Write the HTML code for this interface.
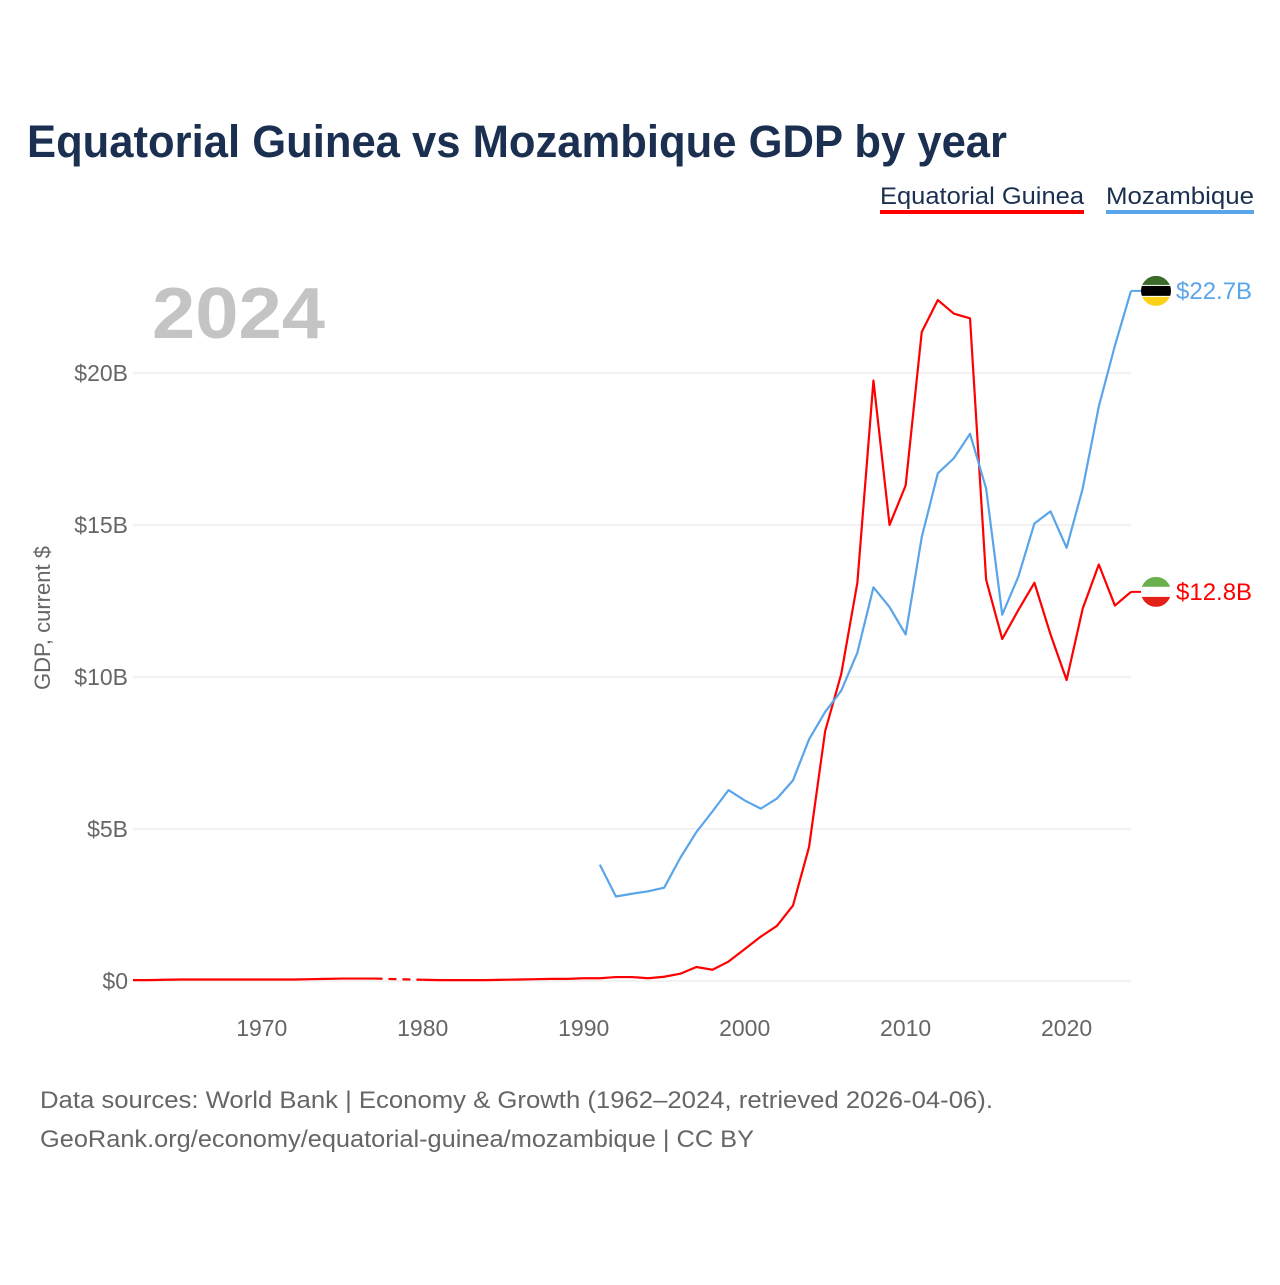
<!DOCTYPE html>
<html><head><meta charset="utf-8"><style>
body{margin:0;background:#fff;width:1280px;height:1280px;overflow:hidden;font-family:"Liberation Sans",sans-serif}
</style></head><body>
<svg width="1280" height="1280" style="font-family:'Liberation Sans',sans-serif">
<text x="27" y="157" font-size="45" font-weight="bold" fill="#1b3050" textLength="980" lengthAdjust="spacingAndGlyphs">Equatorial Guinea vs Mozambique GDP by year</text>
<g><text x="880" y="204" font-size="24" fill="#1b3050" textLength="204" lengthAdjust="spacingAndGlyphs">Equatorial Guinea</text><rect x="880" y="210" width="204" height="4" fill="#ff0000"/></g>
<g><text x="1106" y="204" font-size="24" fill="#1b3050" textLength="148" lengthAdjust="spacingAndGlyphs">Mozambique</text><rect x="1106" y="210" width="148" height="4" fill="#5aa5ea"/></g>
<text x="152" y="338" font-size="72" font-weight="bold" fill="#c4c4c4" textLength="173" lengthAdjust="spacingAndGlyphs">2024</text>
<text transform="translate(50,618) rotate(-90)" text-anchor="middle" font-size="22" fill="#666">GDP, current $</text>
<g id="grid"></g><g id="yt"></g><g id="xt"></g><g id="lines"></g><g id="ends"></g>
<text x="40" y="1108" font-size="24" fill="#666" textLength="953" lengthAdjust="spacingAndGlyphs">Data sources: World Bank | Economy &amp; Growth (1962–2024, retrieved 2026-04-06).</text>
<text x="40" y="1147" font-size="24" fill="#666" textLength="714" lengthAdjust="spacingAndGlyphs">GeoRank.org/economy/equatorial-guinea/mozambique | CC BY</text>
</svg>
<script>
const years=[];for(let y=1962;y<=2024;y++)years.push(y);
const yTicks=[0,5,10,15,20];
const yTickLabels=["$0","$5B","$10B","$15B","$20B"];
const xTicks=[1970,1980,1990,2000,2010,2020];
const eqGuinea=[0.03,0.03,0.04,0.05,0.05,0.05,0.05,0.05,0.05,0.05,0.05,0.06,0.07,0.08,0.08,0.08,null,null,0.04,0.03,0.03,0.03,0.03,0.04,0.05,0.06,0.07,0.07,0.09,0.09,0.13,0.13,0.09,0.14,0.24,0.46,0.37,0.64,1.05,1.46,1.81,2.48,4.41,8.22,10.1,13.1,19.75,15.0,16.3,21.35,22.4,21.95,21.8,13.2,11.25,12.2,13.1,11.4,9.9,12.25,13.7,12.35,12.8];
const mozYears=[1991,1992,1993,1994,1995,1996,1997,1998,1999,2000,2001,2002,2003,2004,2005,2006,2007,2008,2009,2010,2011,2012,2013,2014,2015,2016,2017,2018,2019,2020,2021,2022,2023,2024];
const mozambique=[3.83,2.78,2.87,2.95,3.07,4.05,4.9,5.58,6.28,5.94,5.67,6.0,6.6,7.95,8.85,9.55,10.8,12.95,12.3,11.4,14.6,16.7,17.2,18.0,16.2,12.05,13.3,15.05,15.45,14.25,16.2,18.9,20.9,22.7];
const X=y=>133+(y-1962)*(1131-133)/62;
const Y=v=>981-v*30.4;
const NS="http://www.w3.org/2000/svg";
function mk(t,a,p){const e=document.createElementNS(NS,t);for(const k in a)e.setAttribute(k,a[k]);document.getElementById(p).appendChild(e);return e;}
yTicks.forEach((v,i)=>{
 const l=mk('line',{x1:133,x2:1131,y1:Y(v),y2:Y(v),stroke:'#e6e6e6','stroke-width':1},'grid');
 
 
 const t=mk('text',{x:128,y:Y(v)+8,'text-anchor':'end','font-size':23,fill:'#666'},'yt');t.textContent=yTickLabels[i];
 
 
});
xTicks.forEach(v=>{
 const t=mk('text',{x:X(v),y:1036,'text-anchor':'middle','font-size':23,fill:'#666'},'xt');t.textContent=v;
 
 
});
function draw(xs,vs,color,name){
 let d='',dash='',prev=null,gap=false;
 xs.forEach((yr,i)=>{const v=vs[i];
  if(v==null){gap=true;return;}
  const p=[X(yr),Y(v)];
  if(prev&&gap){dash+='M'+prev[0]+','+prev[1]+'L'+p[0]+','+p[1];d+='M'+p[0]+','+p[1];}
  else d+=(d?'L':'M')+p[0]+','+p[1];
  prev=p;gap=false;});
 const a=mk('path',{d:d,fill:'none',stroke:color,'stroke-width':2.2,'stroke-linejoin':'round'},'lines');
 
 
 if(dash){const b=mk('path',{d:dash,fill:'none',stroke:color,'stroke-width':2.2,'stroke-dasharray':'8,6'},'lines');
 
 }
 return prev;
}
const eEnd=draw(years,eqGuinea,'#ff0000','equatorial-guinea');
const mEnd=draw(mozYears,mozambique,'#5aa5ea','mozambique');
function endLabel(p,color,v,name,flag){
 mk('line',{x1:p[0],x2:p[0]+10,y1:p[1],y2:p[1],stroke:color,'stroke-width':2},'ends');
 const g=mk('g',{},'ends');
 
 
 const cx=p[0]+25,cy=p[1];
 flag.forEach(([c,y0,h])=>{const r=document.createElementNS(NS,'rect');r.setAttribute('x',cx-15);r.setAttribute('y',cy-15+y0);r.setAttribute('width',30);r.setAttribute('height',h);r.setAttribute('fill',c);r.setAttribute('clip-path','url(#c'+name+')');g.appendChild(r);});
 const cp=mk('clipPath',{id:'c'+name},'ends');const cc=document.createElementNS(NS,'circle');cc.setAttribute('cx',cx);cc.setAttribute('cy',cy);cc.setAttribute('r',15);cp.appendChild(cc);
 const t=mk('text',{x:p[0]+45,y:p[1]+8,'font-size':24,fill:color},'ends');t.textContent='$'+v.toFixed(1)+'B';
 
 
}
endLabel(mEnd,'#5aa5ea',mozambique[mozambique.length-1],'mozambique',[['#3a6b2a',0,10],['#000',10,10],['#fff',9,1],['#fff',20,1],['#fcd116',21,9]]);
endLabel(eEnd,'#ff0000',eqGuinea[eqGuinea.length-1],'equatorial-guinea',[['#6ab04c',0,10],['#fff',10,10],['#e32118',20,10]]);
</script>
</body></html>
